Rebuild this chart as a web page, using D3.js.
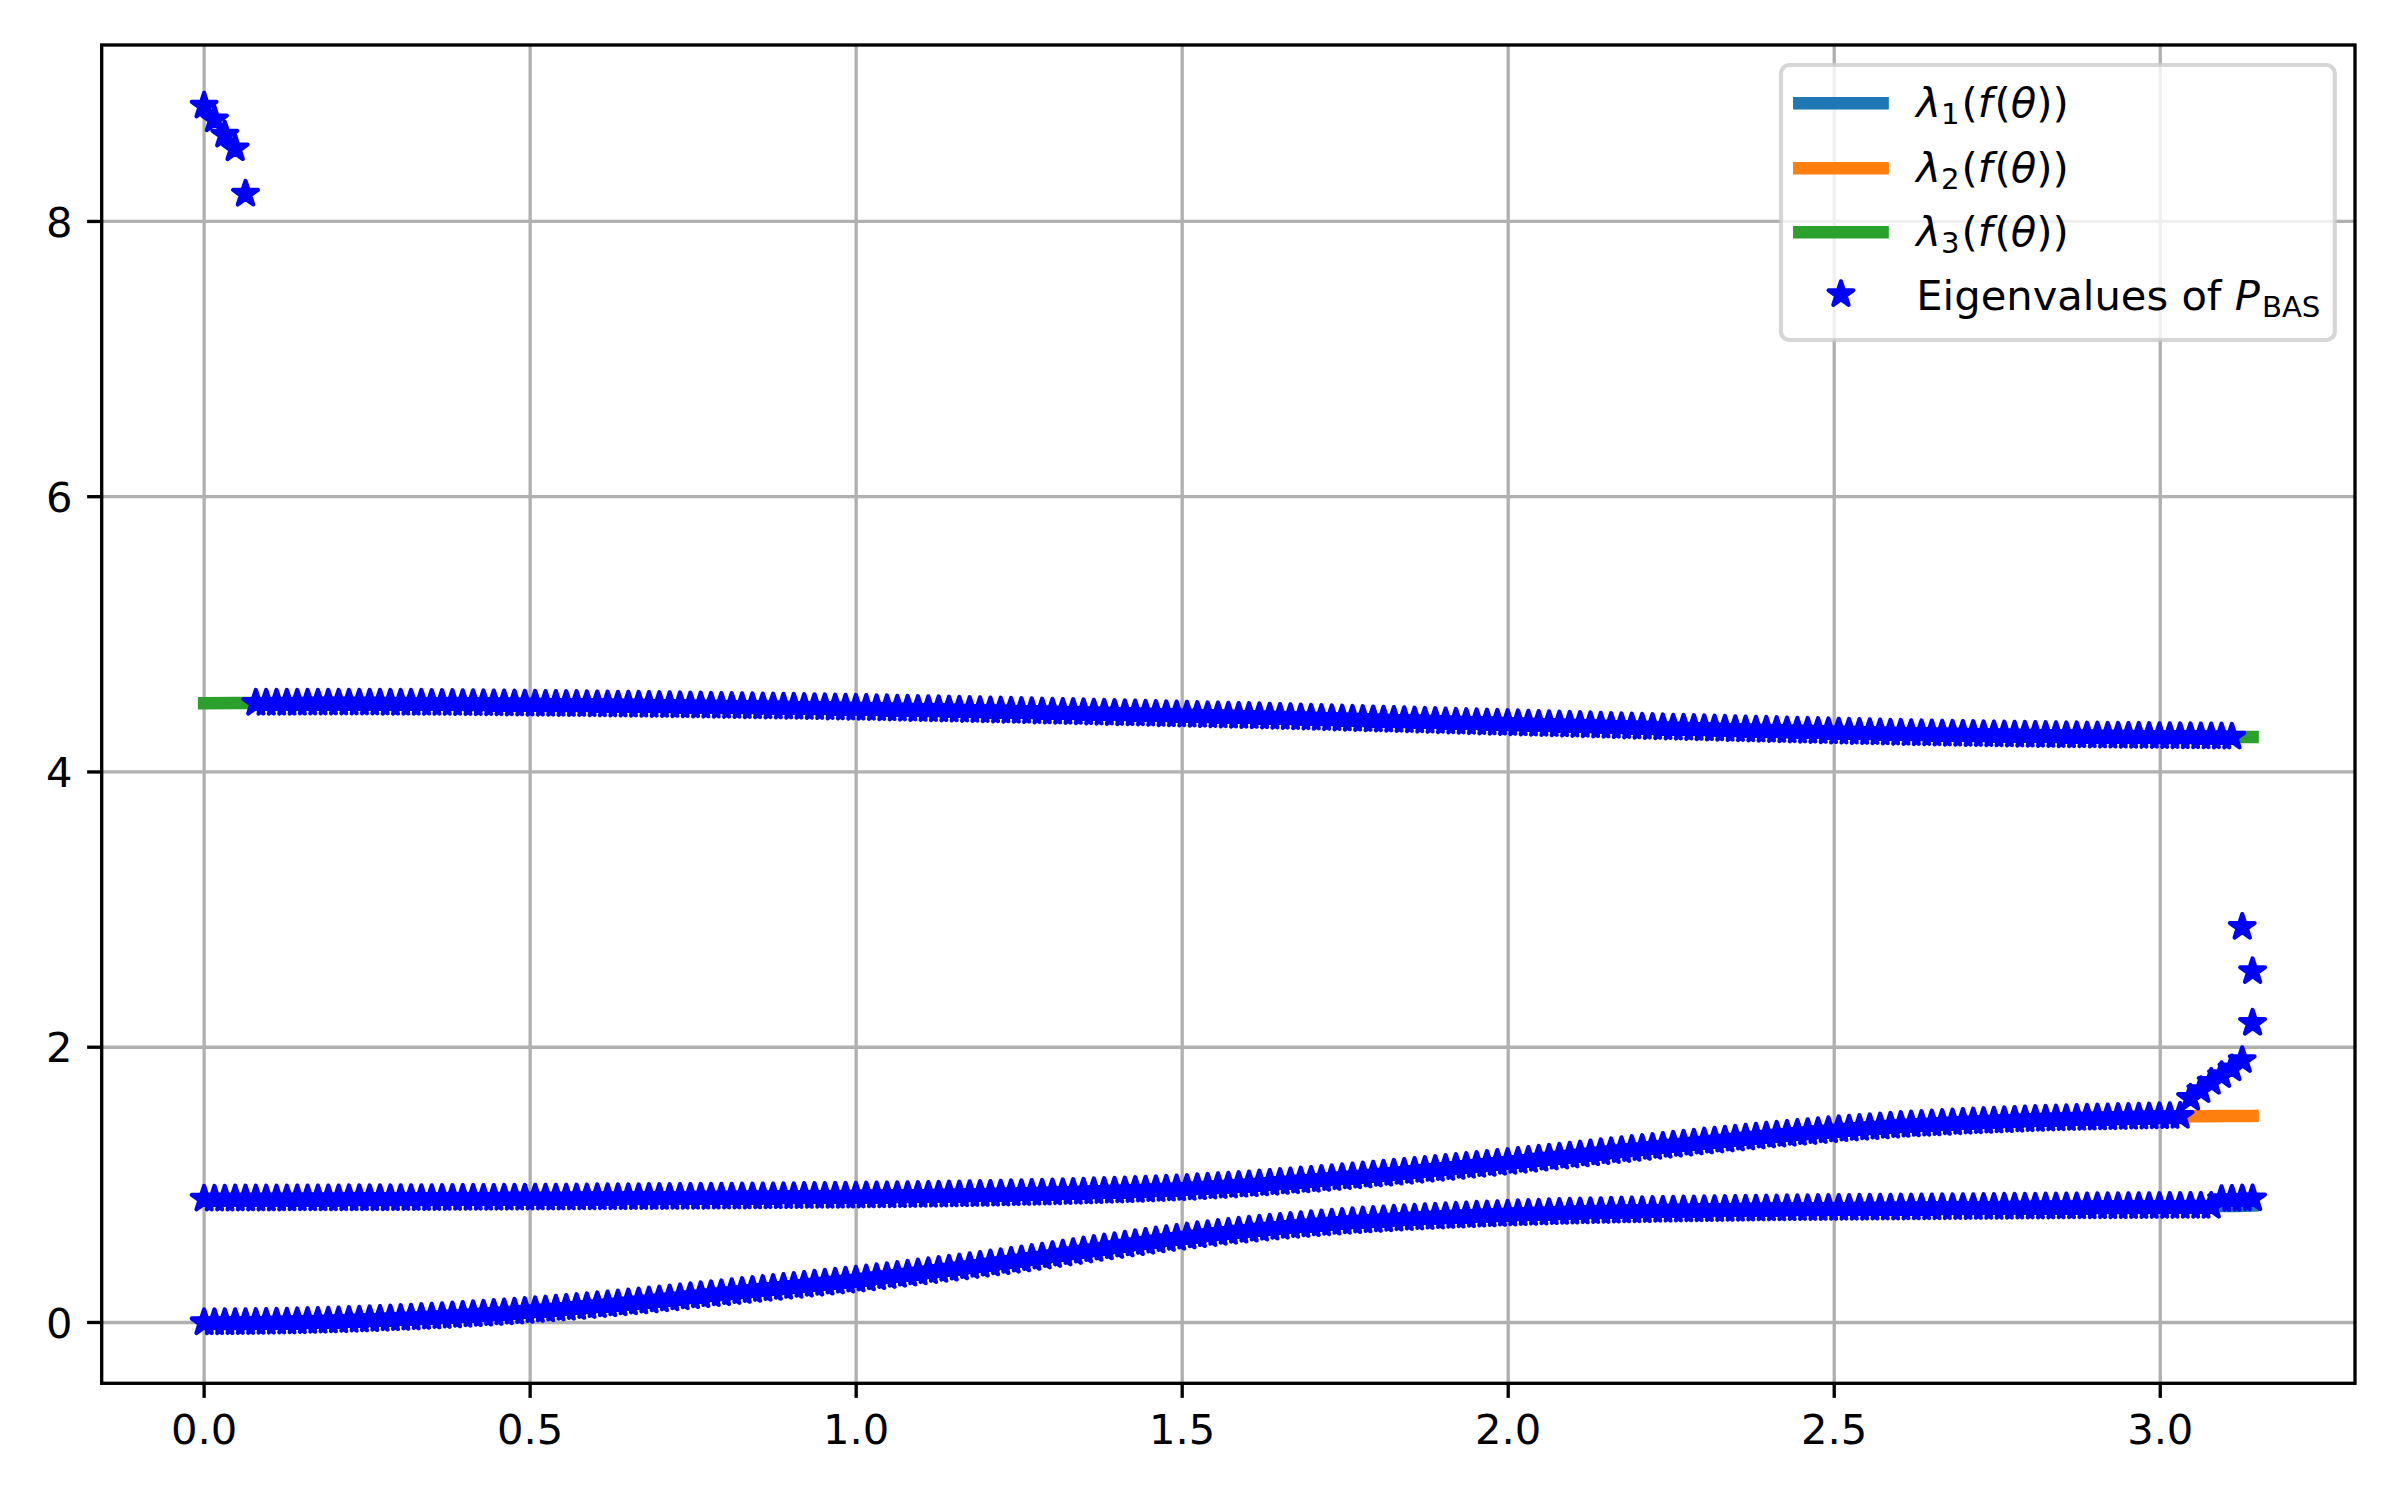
<!DOCTYPE html>
<html>
<head>
<meta charset="utf-8">
<script src="https://cdn.jsdelivr.net/npm/d3@7"></script>
<style>
  body { margin: 0; background: #fff; }
  svg { display: block; }
  text { font-family: "DejaVu Sans", sans-serif; }
</style>
</head>
<body>
<svg id="chart" width="2400" height="1500"></svg>
<script>
// ---------------- DATA ----------------
// Eigenvalues are sampled on the grid theta_k = k*pi/198, k = 0..198
const gridIntervals = 198;

const xTicks = [0, 0.5, 1, 1.5, 2, 2.5, 3];
const xTickLabels = ["0.0", "0.5", "1.0", "1.5", "2.0", "2.5", "3.0"];
const yTicks = [0, 2, 4, 6, 8];
const yTickLabels = ["0", "2", "4", "6", "8"];

// symbol eigenvalue curves lambda_i(f(theta))
const lineTheta = [0, 0.1, 0.2, 0.3, 0.4, 0.5, 0.6, 0.7, 0.8, 0.9, 1.0, 1.1, 1.2, 1.3, 1.4, 1.5, 1.6,
  1.7, 1.8, 1.9, 2.0, 2.1, 2.2, 2.3, 2.4, 2.5, 2.6, 2.7, 2.8, 2.9, 3.0, 3.1, 3.1416];
const lambda1 = [0, 0.0034, 0.0136, 0.0306, 0.0544, 0.085, 0.1224, 0.1666, 0.214, 0.262, 0.310, 0.365,
  0.423, 0.487, 0.555, 0.620, 0.671, 0.713, 0.746, 0.772, 0.790, 0.804, 0.814, 0.821, 0.826, 0.830,
  0.834, 0.837, 0.840, 0.843, 0.845, 0.846, 0.850];
const lambda2 = [0.898, 0.8991, 0.9004, 0.9019, 0.9036, 0.9055, 0.9076, 0.9101, 0.913, 0.9163, 0.920,
  0.9252, 0.9328, 0.9429, 0.9564, 0.9743, 1.0013, 1.0358, 1.0753, 1.1188, 1.1653, 1.2138, 1.2633,
  1.3121, 1.3583, 1.3993, 1.4322, 1.4565, 1.476, 1.488, 1.497, 1.500, 1.501];
const lambda3 = [4.500, 4.501, 4.502, 4.501, 4.499, 4.494, 4.490, 4.485, 4.479, 4.472, 4.465, 4.456,
  4.447, 4.437, 4.427, 4.416, 4.405, 4.393, 4.380, 4.367, 4.354, 4.341, 4.328, 4.316, 4.304, 4.293,
  4.283, 4.275, 4.268, 4.263, 4.259, 4.255, 4.254];

// eigenvalues of P_BAS, lower band, k = 0..198
const eigLowStart = 0;
const eigLow = [
  0.000,0.000,0.000,0.001,0.001,0.002,0.003,0.004,0.005,0.007,0.009,0.010,0.012,0.014,0.017,0.019,
  0.022,0.025,0.028,0.031,0.034,0.038,0.041,0.045,0.049,0.054,0.058,0.062,0.067,0.072,0.077,0.082,
  0.088,0.093,0.099,0.105,0.111,0.117,0.124,0.130,0.137,0.144,0.151,0.158,0.166,
  0.173,0.181,0.189,0.196,0.204,0.211,0.219,0.227,0.234,0.242,0.249,0.257,0.264,0.272,0.280,0.287,
  0.295,0.302,0.310,
  0.318,0.327,0.335,0.344,0.353,0.362,0.371,0.380,0.389,0.398,0.408,0.417,0.427,0.436,0.446,0.456,
  0.467,0.477,0.488,0.499,0.510,0.521,0.532,0.543,0.553,0.564,0.574,0.584,0.594,0.604,0.613,0.623,
  0.632,0.640,0.649,0.657,0.665,0.672,0.680,0.687,0.693,0.700,0.706,0.712,0.718,0.723,0.729,0.734,
  0.739,0.743,0.748,0.752,0.756,0.760,0.764,0.767,0.771,0.774,0.777,0.781,0.783,0.786,0.789,0.792,
  0.794,0.796,0.799,0.801,0.803,0.805,0.807,0.808,0.810,0.812,0.813,0.814,0.816,0.817,0.818,0.819,
  0.820,0.821,0.822,0.823,0.824,0.825,0.826,0.827,0.827,0.828,0.829,0.829,0.830,0.830,
  0.831,0.831,0.832,0.832,0.833,0.833,0.834,0.834,0.835,0.835,0.836,0.836,0.837,0.837,0.838,0.838,
  0.839,0.839,0.840,0.840,0.841,0.841,0.842,0.842,0.842,0.843,0.843,0.843,0.844,0.844,0.844,0.845,
  0.845,0.845,0.846,0.846,0.846,
  0.895,0.897,0.899,0.900];

// middle band, k = 0..197 (last six leave the band and rise)
const eigMidStart = 0;
const eigMid = [
  0.898,0.898,0.898,0.899,0.899,0.899,0.899,0.899,0.899,0.900,0.900,0.900,0.900,
  0.900,0.901,0.901,0.901,0.901,0.901,0.902,0.902,0.902,0.902,0.903,0.903,0.904,
  0.904,0.904,0.904,0.905,0.905,0.905,0.906,0.906,0.906,0.906,0.907,0.907,0.908,
  0.908,0.908,0.909,0.909,0.910,0.910,0.910,0.911,0.911,0.912,0.912,0.913,0.913,0.914,0.914,0.915,
  0.915,0.916,0.916,0.917,0.918,0.918,0.919,0.919,0.920,
  0.921,0.922,0.922,0.923,0.924,0.925,0.926,0.927,0.928,0.929,0.931,0.932,
  0.933,0.935,0.937,0.938,0.940,0.941,0.943,0.945,0.947,0.949,0.952,0.954,0.956,
  0.958,0.961,0.964,0.967,0.970,0.973,
  0.976,0.981,0.985,0.989,0.993,0.998,
  1.002,1.008,1.013,1.019,1.024,1.030,1.035,
  1.041,1.047,1.054,1.060,1.066,1.073,
  1.079,1.086,1.093,1.100,1.107,1.114,
  1.121,1.128,1.136,1.143,1.150,1.158,1.165,
  1.173,1.180,1.188,1.196,1.203,1.211,
  1.219,1.227,1.235,1.243,1.251,1.259,
  1.266,1.274,1.282,1.290,1.297,1.305,1.313,
  1.320,1.327,1.334,1.342,1.349,1.356,
  1.363,1.369,1.376,1.382,1.389,1.395,
  1.402,1.407,1.412,1.417,1.422,1.428,1.433,
  1.437,1.441,1.444,1.448,1.452,1.456,
  1.459,1.462,1.465,1.468,1.471,1.474,
  1.477,1.479,1.481,1.483,1.485,1.486,1.488,
  1.489,1.491,1.492,1.494,1.495,1.497,1.498,1.500,
  1.631,1.687,1.747,1.796,1.845,1.905];

// upper band, k = 5..196
const eigTopStart = 5;
const eigTop = [
  4.501,4.501,4.501,4.501,4.501,4.502,4.502,4.502,
  4.502,4.502,4.502,4.502,4.502,4.501,4.501,
  4.501,4.501,4.500,4.500,4.500,4.499,
  4.499,4.498,4.497,4.497,4.496,4.495,
  4.494,4.493,4.493,4.492,4.492,4.491,4.490,
  4.489,4.488,4.488,4.487,4.486,4.485,
  4.484,4.483,4.482,4.481,4.480,4.479,
  4.478,4.477,4.476,4.475,4.474,4.473,
  4.472,4.471,4.470,4.469,4.467,4.466,4.465,
  4.464,4.462,4.461,4.459,4.458,4.456,
  4.455,4.454,4.452,4.451,4.449,4.448,
  4.446,4.445,4.443,4.442,4.440,4.438,4.437,
  4.435,4.434,4.432,4.430,4.429,4.427,
  4.425,4.424,4.422,4.420,4.418,4.417,
  4.415,4.413,4.411,4.410,4.408,4.406,
  4.405,4.403,4.401,4.399,4.397,4.395,4.393,
  4.391,4.389,4.387,4.385,4.383,4.381,
  4.379,4.377,4.375,4.373,4.371,4.369,
  4.366,4.364,4.362,4.360,4.358,4.356,4.354,
  4.352,4.350,4.348,4.346,4.344,4.342,
  4.340,4.338,4.335,4.333,4.331,4.329,
  4.327,4.325,4.323,4.321,4.320,4.318,4.316,
  4.314,4.312,4.310,4.308,4.306,4.305,
  4.303,4.301,4.299,4.298,4.296,4.294,
  4.292,4.291,4.289,4.288,4.286,4.284,4.283,
  4.281,4.280,4.279,4.277,4.276,4.275,
  4.274,4.273,4.272,4.271,4.270,4.269,
  4.268,4.267,4.266,4.265,4.265,4.264,4.263,
  4.262,4.262,4.261,4.261,4.260,4.259,4.259,
  4.258,4.258,4.257,4.257,4.256,4.255];

// isolated outliers
const eigTopOutlierStart = 0;           // k = 0..4
const eigTopOutliers = [8.84, 8.74, 8.63, 8.53, 8.20];
const eigRightOutlierIdx = [197, 198, 198];
const eigRightOutliers = [2.873, 2.551, 2.176];

const lineColors = ["#1f77b4", "#ff7f0e", "#2ca02c"];
const starColor = "#0000ff";

// ---------------- LAYOUT ----------------
const W = 2400, H = 1500;
const plot = { left: 101.7, right: 2355, top: 45, bottom: 1383.3 };
const PT = 300 / 72;                 // px per point (300 dpi figure)
const fontSize = 10 * PT;

const svg = d3.select("#chart");

const toPoints = (vals, start) => vals.map((v, i) => ({ t: (start + i) * Math.PI / gridIntervals, v }));
const starPts = [].concat(
  toPoints(eigTopOutliers, eigTopOutlierStart),
  toPoints(eigTop, eigTopStart),
  toPoints(eigMid, eigMidStart),
  toPoints(eigLow, eigLowStart),
  eigRightOutlierIdx.map((k, i) => ({ t: k * Math.PI / gridIntervals, v: eigRightOutliers[i] }))
);

const xMin = 0, xMax = Math.PI;
const allV = starPts.map(d => d.v).concat(lambda1, lambda2, lambda3);
const yMin = d3.min(allV), yMax = d3.max(allV);
const xPad = (xMax - xMin) * 0.05, yPad = (yMax - yMin) * 0.05;

const x = d3.scaleLinear().domain([xMin - xPad, xMax + xPad]).range([plot.left, plot.right]);
const y = d3.scaleLinear().domain([yMin - yPad, yMax + yPad]).range([plot.bottom, plot.top]);

const lw = 0.8 * PT;

// grid
const grid = svg.append("g");
grid.selectAll("line.gx").data(xTicks).join("line")
  .attr("x1", d => x(d)).attr("x2", d => x(d))
  .attr("y1", plot.top).attr("y2", plot.bottom)
  .attr("stroke", "#b0b0b0").attr("stroke-width", lw);
grid.selectAll("line.gy").data(yTicks).join("line")
  .attr("class", "gy")
  .attr("x1", plot.left).attr("x2", plot.right)
  .attr("y1", d => y(d)).attr("y2", d => y(d))
  .attr("stroke", "#b0b0b0").attr("stroke-width", lw);

// clip
svg.append("defs").append("clipPath").attr("id", "clip")
  .append("rect").attr("x", plot.left).attr("y", plot.top)
  .attr("width", plot.right - plot.left).attr("height", plot.bottom - plot.top);

const dataG = svg.append("g").attr("clip-path", "url(#clip)");

// symbol curves
const lineGen = d3.line().x((d, i) => x(lineTheta[i])).y(d => y(d)).curve(d3.curveMonotoneX);
[lambda1, lambda2, lambda3].forEach((arr, i) => {
  dataG.append("path").datum(arr).attr("d", lineGen)
    .attr("fill", "none").attr("stroke", lineColors[i])
    .attr("stroke-width", 3 * PT).attr("stroke-linecap", "square").attr("stroke-linejoin", "round");
});

// stars
const starR = 13;
const starSym = d3.symbol().type(d3.symbolStar).size(starR * starR / 0.8908130915292852);
const starPath = starSym();
dataG.append("g").selectAll("path").data(starPts).join("path")
  .attr("d", starPath)
  .attr("transform", d => `translate(${x(d.t)},${y(d.v)})`)
  .attr("fill", starColor).attr("stroke", starColor)
  .attr("stroke-width", 1 * PT).attr("stroke-linejoin", "round");

// spines
const sp = svg.append("g").attr("stroke", "#000").attr("stroke-width", lw).attr("fill", "none");
sp.append("rect").attr("x", plot.left).attr("y", plot.top)
  .attr("width", plot.right - plot.left).attr("height", plot.bottom - plot.top)
  .attr("stroke-linejoin", "miter");

// ticks
const tickLen = 3.5 * PT, pad = 3.5 * PT;
const tg = svg.append("g");
tg.selectAll("line.tx").data(xTicks).join("line").attr("class", "tx")
  .attr("x1", d => x(d)).attr("x2", d => x(d))
  .attr("y1", plot.bottom).attr("y2", plot.bottom + tickLen)
  .attr("stroke", "#000").attr("stroke-width", lw);
tg.selectAll("text.tx").data(xTicks).join("text").attr("class", "tx")
  .attr("x", d => x(d)).attr("y", plot.bottom + tickLen + pad + fontSize * 0.76)
  .attr("text-anchor", "middle").attr("font-size", fontSize).attr("fill", "#000")
  .text((d, i) => xTickLabels[i]);
tg.selectAll("line.ty").data(yTicks).join("line").attr("class", "ty")
  .attr("x1", plot.left - tickLen).attr("x2", plot.left)
  .attr("y1", d => y(d)).attr("y2", d => y(d))
  .attr("stroke", "#000").attr("stroke-width", lw);
tg.selectAll("text.ty").data(yTicks).join("text").attr("class", "ty")
  .attr("x", plot.left - tickLen - pad).attr("y", d => y(d) + fontSize * 0.364)
  .attr("text-anchor", "end").attr("font-size", fontSize).attr("fill", "#000")
  .text((d, i) => yTickLabels[i]);

// legend
const lg = svg.append("g");
const box = { x: 1781, y: 65, w: 553.8, h: 275 };
lg.append("rect").attr("x", box.x).attr("y", box.y).attr("width", box.w).attr("height", box.h)
  .attr("rx", 8.3).attr("ry", 8.3)
  .attr("fill", "#fff").attr("fill-opacity", 0.8)
  .attr("stroke", "#cccccc").attr("stroke-opacity", 0.8).attr("stroke-width", 1 * PT);

const rowY = [103.3, 168.3, 232.3, 294.3];
const handleX0 = 1799.3, handleX1 = 1882.6, textX = 1916.3;
const subs = ["1", "2", "3"];
subs.forEach((s, i) => {
  lg.append("line").attr("x1", handleX0).attr("x2", handleX1)
    .attr("y1", rowY[i]).attr("y2", rowY[i])
    .attr("stroke", lineColors[i]).attr("stroke-width", 3 * PT).attr("stroke-linecap", "square");
  const t = lg.append("text").attr("x", textX).attr("y", rowY[i] + 13.4)
    .attr("font-size", fontSize).attr("fill", "#000");
  t.append("tspan").attr("font-style", "italic").text("λ");
  t.append("tspan").attr("font-size", fontSize * 0.7).attr("dy", 7).text(s);
  t.append("tspan").attr("dy", -7).attr("dx", 2).text("(");
  t.append("tspan").attr("font-style", "italic").text("f");
  t.append("tspan").attr("dx", 2).text("(");
  t.append("tspan").attr("font-style", "italic").text("θ");
  t.append("tspan").text("))");
});
lg.append("path").attr("d", starPath)
  .attr("transform", `translate(${(handleX0 + handleX1) / 2},${rowY[3]})`)
  .attr("fill", starColor).attr("stroke", starColor)
  .attr("stroke-width", 1 * PT).attr("stroke-linejoin", "round");
const t4 = lg.append("text").attr("x", textX).attr("y", rowY[3] + 15.5)
  .attr("font-size", fontSize).attr("fill", "#000");
t4.append("tspan").text("Eigenvalues of ");
t4.append("tspan").attr("font-style", "italic").text("P");
t4.append("tspan").attr("font-size", fontSize * 0.7).attr("dy", 6.7).attr("dx", 2).text("BAS");
</script>
</body>
</html>
